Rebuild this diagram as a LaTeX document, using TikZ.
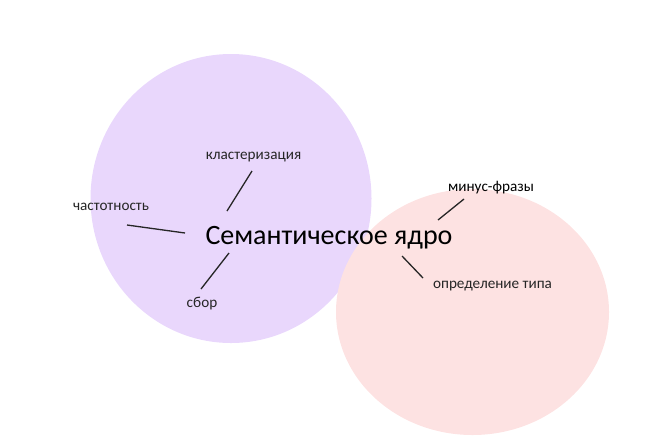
\documentclass[tikz,border=0pt]{standalone}
\usepackage{fontspec}
\setmainfont{Carlito}
\usepackage{xcolor}
\usepackage{tikz}
\definecolor{corepurple}{RGB}{233, 215, 252}
\definecolor{adspink}{RGB}{253, 226, 226}
\definecolor{labelgray}{RGB}{38, 38, 38}

\begin{document}
\begin{tikzpicture}[
    x=1pt, y=-1pt,
    core/.style={anchor=base, inner sep=0pt, text=black, font=\fontsize{28}{33}\selectfont},
    term/.style={anchor=base, inner sep=0pt, text=labelgray, font=\fontsize{15.2}{18}\selectfont},
    link/.style={line width=1.3pt, draw=labelgray}
]
    \useasboundingbox (0,0) rectangle (660,440);
    \fill[corepurple] (231,198.5) ellipse [x radius=140.5, y radius=144.5];
    \fill[adspink] (472.5,312) ellipse [x radius=136.5, y radius=123];

    \node[core] (core) at (329,244) {Семантическое ядро};
    \node[term] (cluster) at (253.5,159) {кластеризация};
    \node[term] (freq) at (111,210.5) {частотность};
    \node[term] (collect) at (202,307) {сбор};
    \node[term, text=black] (minus) at (491,191.5) {минус-фразы};
    \node[term] (typedef) at (492.5,288) {определение типа};

    \coordinate (cluster-in) at (227,211);  \coordinate (cluster-out) at (252,171);
    \coordinate (freq-in) at (185,233);     \coordinate (freq-out) at (127,225);
    \coordinate (collect-in) at (229,253);  \coordinate (collect-out) at (201,289);
    \coordinate (minus-in) at (438,220);    \coordinate (minus-out) at (464,199);
    \coordinate (typedef-in) at (402,256);  \coordinate (typedef-out) at (423,278);

    \draw[link] (cluster-in) -- (cluster-out);
    \draw[link] (freq-in) -- (freq-out);
    \draw[link] (collect-in) -- (collect-out);
    \draw[link] (minus-in) -- (minus-out);
    \draw[link] (typedef-in) -- (typedef-out);
\end{tikzpicture}
\end{document}
